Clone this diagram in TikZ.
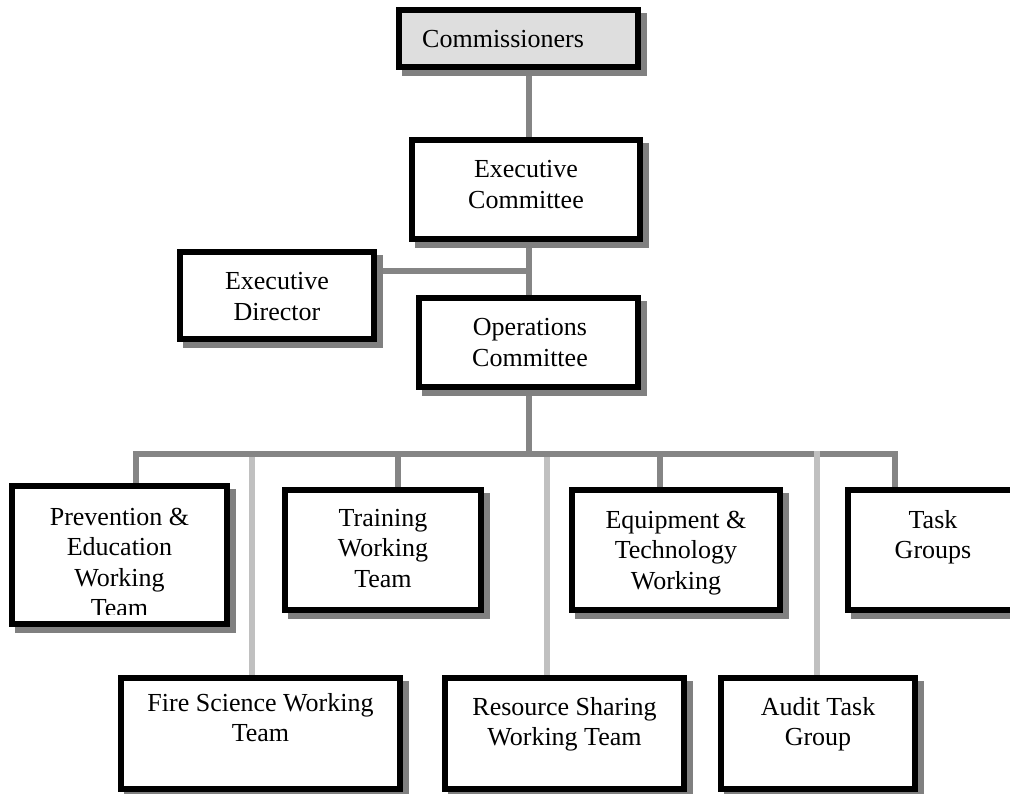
\documentclass[tikz,border=0pt]{standalone}
\usepackage{fontspec}
\setmainfont{Liberation Serif}
\usetikzlibrary{shadows,backgrounds}

\definecolor{shadowgray}{HTML}{808080}
\definecolor{linkgray}{HTML}{858585}
\definecolor{lightlink}{HTML}{C0C0C0}
\definecolor{topfill}{HTML}{DEDEDE}

\tikzset{
  orgbox/.style={draw=black, line width=6pt, fill=white, inner sep=0pt,
    drop shadow={shadow xshift=6pt, shadow yshift=-6pt, opacity=1,
                 fill=shadowgray, draw=shadowgray, line width=6pt}},
  boxlabel/.style={anchor=base, inner sep=0pt,
    font=\fontsize{26}{30.5}\selectfont},
  link/.style={draw=linkgray, line width=6pt, line join=miter},
  sidelink/.style={draw=lightlink, line width=6pt},
}
% centred lines of a box, first baseline at the node's base
\newcommand\boxlines[2]{\parbox[t]{#1}{\centering #2}}

\begin{document}
\begin{tikzpicture}[x=1pt, y=-1pt]
\clip (0,0) rectangle (1010,794);

% connection points of the trunk, the bus and the branch lines
\coordinate (trunk) at (529,271);
\coordinate (busL)  at (136,454);
\coordinate (busR)  at (895,454);
\coordinate (dropTR) at (398,454);
\coordinate (dropEQ) at (660,454);
\coordinate (sideFS) at (252,454);
\coordinate (sideRS) at (547,454);
\coordinate (sideAT) at (817,451);

% boxes (outer edges given; the path runs 3pt inside them)
\node[orgbox, fill=topfill, minimum width=239pt, minimum height=57pt] (com) at (518.5,38.5) {};
\node[orgbox, minimum width=228pt, minimum height=99pt] (ec) at (526,189.5) {};
\node[orgbox, minimum width=194pt, minimum height=87pt] (ed) at (277,295.5) {};
\node[orgbox, minimum width=219pt, minimum height=89pt] (oc) at (528.5,342.5) {};
\node[orgbox, minimum width=215pt, minimum height=138pt] (pe) at (119.5,555) {};
\node[orgbox, minimum width=196pt, minimum height=120pt] (tr) at (383,550) {};
\node[orgbox, minimum width=208pt, minimum height=120pt] (eq) at (676,550) {};
\node[orgbox, minimum width=171pt, minimum height=120pt] (tg) at (933.5,550) {};
\node[orgbox, minimum width=279pt, minimum height=111pt] (fs) at (260.5,733.5) {};
\node[orgbox, minimum width=239pt, minimum height=111pt] (rs) at (564.5,733.5) {};
\node[orgbox, minimum width=194pt, minimum height=111pt] (at) at (818,733.5) {};

% connectors, drawn beneath the boxes
\begin{scope}[on background layer]
  \draw[sidelink] (sideFS) -- (fs.north -| sideFS);
  \draw[sidelink] (sideRS) -- (rs.north -| sideRS);
  \draw[link] (com.south -| trunk) -- (ec.north -| trunk);
  \draw[link] (ec.south -| trunk) -- (oc.north -| trunk);
  \draw[link] (ed.east |- trunk) -- (trunk);
  \draw[link] (oc.south -| trunk) -- (busL -| trunk);
  \draw[link] (pe.north -| busL) |- (busR) -- (tg.north -| busR);
  \draw[link] (dropTR) -- (tr.north -| dropTR);
  \draw[link] (dropEQ) -- (eq.north -| dropEQ);
  \draw[sidelink] (sideAT) -- (at.north -| sideAT);
\end{scope}

% texts
\node[boxlabel, anchor=base west] (com-t) at (422,48) {Commissioners};
\node[boxlabel] (ec-t) at (526,178) {\boxlines{220pt}{Executive\\Committee}};
\node[boxlabel] (ed-t) at (277,290) {\boxlines{190pt}{Executive\\Director}};
\node[boxlabel] (oc-t) at (530,336) {\boxlines{210pt}{Operations\\Committee}};
\begin{scope}
  \clip (12,486) rectangle (227,614);
  \node[boxlabel] (pe-t) at (119.5,525) {\boxlines{210pt}{Prevention \&\\Education\\Working\\Team}};
\end{scope}
\node[boxlabel] (tr-t) at (383,526) {\boxlines{190pt}{Training\\Working\\Team}};
\node[boxlabel] (eq-t) at (676,528) {\boxlines{200pt}{Equipment \&\\Technology\\Working}};
\node[boxlabel] (tg-t) at (933,528) {\boxlines{160pt}{Task\\Groups}};
\node[boxlabel] (fs-t) at (260.5,711) {\boxlines{275pt}{Fire Science Working\\Team}};
\node[boxlabel] (rs-t) at (564.5,715) {\boxlines{235pt}{Resource Sharing\\Working Team}};
\node[boxlabel] (at-t) at (818,715) {\boxlines{190pt}{Audit Task\\Group}};
\end{tikzpicture}
\end{document}
